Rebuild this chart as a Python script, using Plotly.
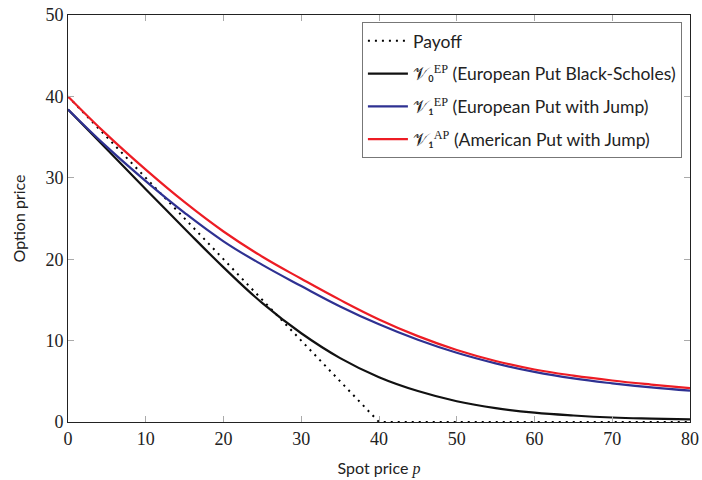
import plotly.graph_objects as go

# Data
spot = [0, 5, 10, 15, 20, 25, 30, 35, 40, 45, 50, 55, 60, 65, 70, 75, 80]
payoff_x = [0, 40, 80]
payoff_y = [40, 0, 0]
bs_put = [38.4, 33.5, 28.6, 23.75, 19.0, 14.6, 10.9, 7.85, 5.5, 3.8, 2.55, 1.7, 1.15, 0.8, 0.55, 0.42, 0.33]
eu_jump = [38.4, 33.8, 29.6, 25.7, 22.2, 19.3, 16.7, 14.2, 12.0, 10.1, 8.5, 7.2, 6.15, 5.35, 4.75, 4.25, 3.85]
am_jump = [40.0, 35.3, 31.0, 27.0, 23.4, 20.3, 17.6, 15.0, 12.6, 10.55, 8.85, 7.5, 6.45, 5.7, 5.1, 4.6, 4.15]

serif = "Liberation Serif"
sans = "Lato"

def sup(t):
    return "<sup><span style='font-family:%s'>%s</span></sup>" % (serif, t)

names = [
    "Payoff",
    "𝒱₀" + sup("EP") + " (European Put Black-Scholes)",
    "𝒱₁" + sup("EP") + " (European Put with Jump)",
    "𝒱₁" + sup("AP") + " (American Put with Jump)",
]
x_ticks = [0, 10, 20, 30, 40, 50, 60, 70, 80]
y_ticks = [0, 10, 20, 30, 40, 50]

fig = go.Figure()
fig.add_trace(go.Scatter(x=payoff_x, y=payoff_y, mode="lines", name=names[0], legendgroup="a",
                         line=dict(color="black", width=2, dash="2px,5px")))
fig.add_trace(go.Scatter(x=spot, y=bs_put, mode="lines", name=names[1], legendgroup="b",
                         line=dict(color="#111111", width=2.2, shape="spline", smoothing=1.2)))
fig.add_trace(go.Scatter(x=spot, y=eu_jump, mode="lines", name=names[2], legendgroup="c",
                         line=dict(color="#2e3192", width=2.2, shape="spline", smoothing=1.2)))
fig.add_trace(go.Scatter(x=spot, y=am_jump, mode="lines", name=names[3], legendgroup="d",
                         line=dict(color="#ed1c24", width=2.2, shape="spline", smoothing=1.2)))

axis_common = dict(
    showgrid=False, zeroline=False, automargin=False,
    showline=True, linecolor="#222222", linewidth=1,
    mirror="allticks", ticks="inside", ticklen=6, tickcolor="#aaaaaa", tickwidth=1,
    tickfont=dict(family=serif, size=18, color="#222222"),
)

fig.update_layout(
    width=702, height=480,
    margin=dict(l=68, r=12, t=15, b=58),
    paper_bgcolor="white", plot_bgcolor="white",
    showlegend=True,
    legend=dict(x=0.987, y=0.983, xanchor="right", yanchor="top",
                bgcolor="white", bordercolor="#777777", borderwidth=1,
                font=dict(family=sans, size=17.5, color="#222222"),
                tracegroupgap=7, itemwidth=40),
    xaxis=dict(range=[0, 80], tickvals=x_ticks,
               title=dict(text="Spot price <i style='font-family:Liberation Serif'>p</i>",
                          font=dict(family=sans, size=16, color="#222222")),
               **axis_common),
    yaxis=dict(range=[0, 50], tickvals=y_ticks,
               title=dict(text="Option price", font=dict(family=sans, size=16, color="#222222")),
               **axis_common),
)

fig.write_html("out.html", config={"displayModeBar": False},
               post_script="document.body.style.margin='0';")
